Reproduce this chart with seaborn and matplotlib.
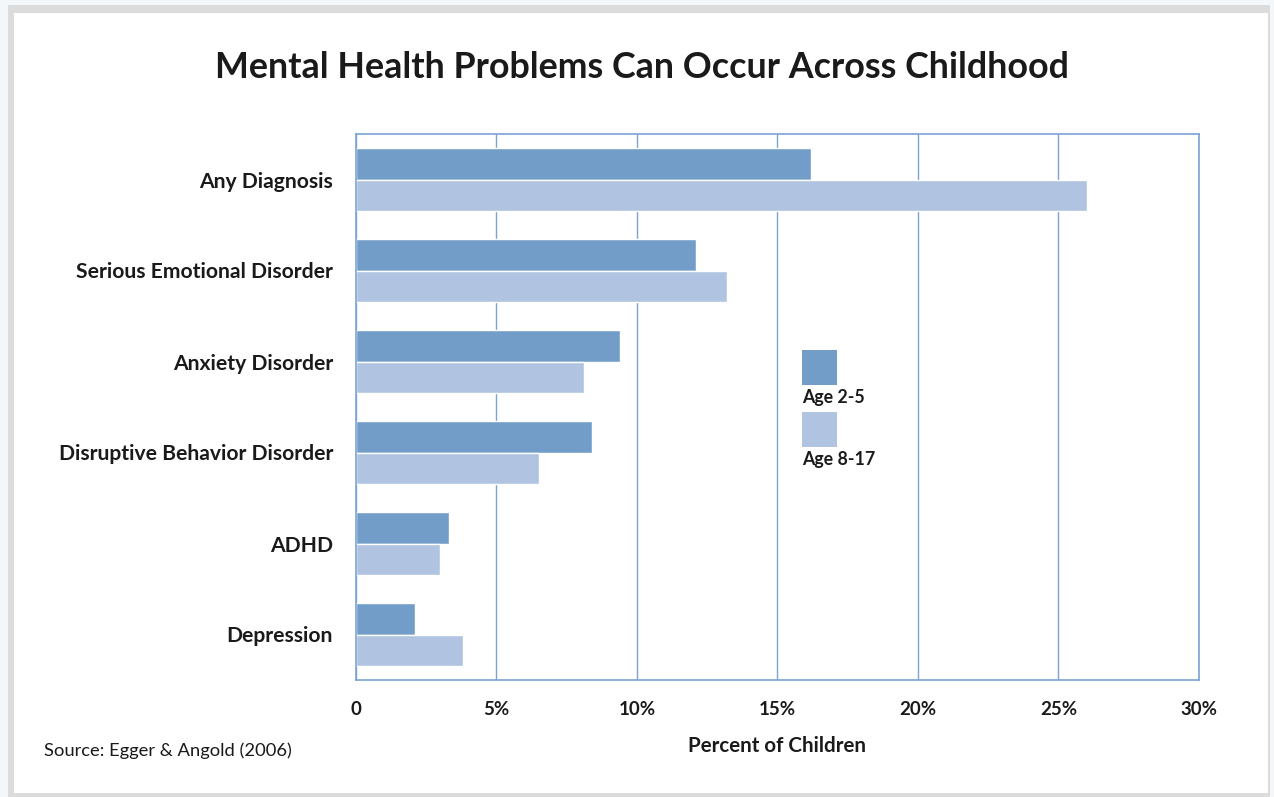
import pandas as pd
import numpy as np
import matplotlib.pyplot as plt
import seaborn as sns
from matplotlib.patches import Rectangle

# values (percent of children)
categories = ['Any Diagnosis', 'Serious Emotional Disorder', 'Anxiety Disorder',
              'Disruptive Behavior Disorder', 'ADHD', 'Depression']
age_2_5 = [16.2, 12.1, 9.4, 8.4, 3.3, 2.1]
age_8_17 = [26.0, 13.2, 8.1, 6.5, 3.0, 3.8]
groups = ['Age 2-5', 'Age 8-17']
tick_vals = [0, 5, 10, 15, 20, 25, 30]
tick_labels = ['0', '5%', '10%', '15%', '20%', '25%', '30%']

dark = '#729dc9'
light = '#b0c4e1'
line_col = '#7ba3d4'

data = pd.DataFrame({
    'category': categories * 2,
    'value': age_2_5 + age_8_17,
    'group': [groups[0]] * len(categories) + [groups[1]] * len(categories),
})

sns.set_style('white')
plt.rcParams['font.family'] = ['Lato', 'DejaVu Sans']

fig = plt.figure(figsize=(12.74, 7.97), dpi=100)
fig.patch.set_facecolor('#f4f7fa')
# grey page border with white card inside
fig.patches.append(Rectangle((8 / 1274, 0), 1262 / 1274, 1 - 5 / 797,
                             transform=fig.transFigure, facecolor='#dcdcdc',
                             edgecolor='none', zorder=-2))
fig.patches.append(Rectangle((14 / 1274, 4 / 797), 1254 / 1274, 1 - 17 / 797,
                             transform=fig.transFigure, facecolor='white',
                             edgecolor='none', zorder=-1))

ax = fig.add_axes([356 / 1274, 1 - 680 / 797, 843 / 1274, 546 / 797])
sns.barplot(data=data, y='category', x='value', hue='group', order=categories,
            hue_order=groups, palette=[dark, light], orient='h', width=0.69,
            saturation=1, legend=False, ax=ax)

ax.set_xlim(0, 30)
ax.set_ylim(len(categories) - 0.5, -0.5)
ax.set_xticks(tick_vals)
ax.set_xticklabels(tick_labels, fontsize=13.5, fontweight='bold', color='#1a1a1a')
ax.tick_params(axis='x', direction='out', length=6, width=1, color=line_col, pad=9)
ax.tick_params(axis='y', length=0, pad=16.5)
for lab in ax.get_yticklabels():
    lab.set_fontsize(15.2)
    lab.set_fontweight('bold')
    lab.set_color('#1a1a1a')
ax.set_ylabel('')
ax.set_xlabel('Percent of Children', fontsize=14.8, fontweight='bold',
              color='#1a1a1a', labelpad=13)
ax.xaxis.grid(True, color=line_col, linewidth=1)
ax.set_axisbelow(True)
for s in ax.spines.values():
    s.set_visible(True)
    s.set_color(line_col)
    s.set_linewidth(1.2)

fig.text(0.5 * (216 + 1068) / 1274, 1 - 67 / 797,
         'Mental Health Problems Can Occur Across Childhood',
         ha='center', va='center', fontsize=25.8, fontweight='bold', color='#1a1a1a')
fig.text(44 / 1274, 1 - 751 / 797, 'Source: Egger & Angold (2006)',
         ha='left', va='center', fontsize=13.2, color='#1a1a1a')

# legend: swatch with label beneath
for i, (lab, col) in enumerate(zip(groups, [dark, light])):
    top = 350 + i * 62
    fig.patches.append(Rectangle((802 / 1274, 1 - (top + 35) / 797), 35 / 1274, 35 / 797,
                                 transform=fig.transFigure, facecolor=col,
                                 edgecolor='none', zorder=5))
    fig.text(802 / 1274, 1 - (top + 48) / 797, lab, ha='left', va='center',
             fontsize=12.8, fontweight='bold', color='#1a1a1a')

fig.savefig('out.png', dpi=100, facecolor=fig.get_facecolor())
